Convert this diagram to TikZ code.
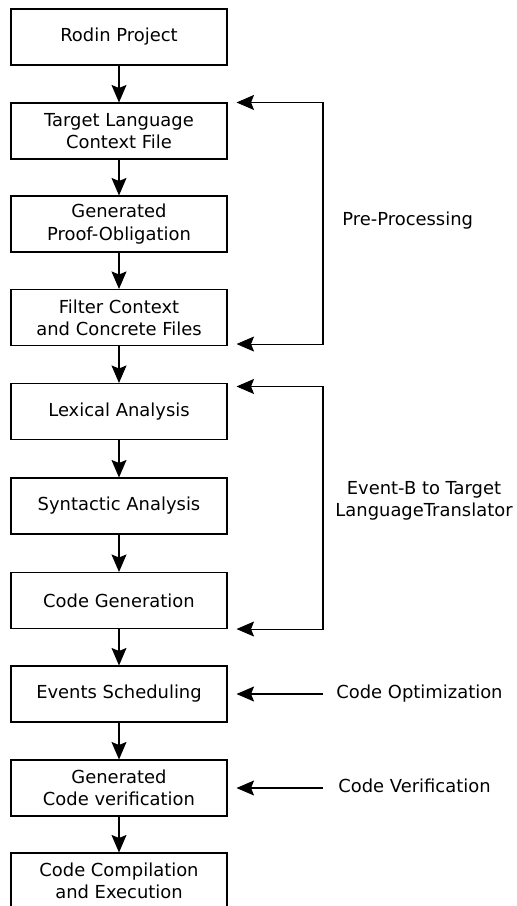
\documentclass[tikz,border=0pt]{standalone}
\usepackage{fontspec}
\setmainfont{DejaVu Sans}
\usetikzlibrary{arrows.meta}
\begin{document}
\begin{tikzpicture}
	\tikzstyle{stage}=[rectangle,draw=black,line width=0.6pt,minimum width=4.32cm,minimum height=1.12cm,align=center,font=\fontsize{10.2}{12.6}\selectfont]
	\tikzstyle{note}=[align=center,inner sep=0pt,font=\fontsize{10.2}{12.6}\selectfont]
	\tikzstyle{edge}=[draw, line width=0.6pt, -{Stealth[length=3.5mm,width=3mm,inset=0.6mm]}]
	\useasboundingbox (0,0) rectangle (10.32,-18.12);
	\begin{scope}
		\node [stage] (rodin)   at (2.38,-0.74)  {Rodin Project};
		\node [stage] (target)  at (2.38,-2.62)  {Target Language\\Context File};
		\node [stage] (proof)   at (2.38,-4.48)  {Generated\\Proof-Obligation};
		\node [stage] (filter)  at (2.38,-6.35)  {Filter Context\\and Concrete Files};
		\node [stage] (lexical) at (2.38,-8.23)  {Lexical Analysis};
		\node [stage] (syntax)  at (2.38,-10.12) {Syntactic Analysis};
		\node [stage] (codegen) at (2.38,-12.01) {Code Generation};
		\node [stage] (sched)   at (2.38,-13.88) {Events Scheduling};
		\node [stage] (verif)   at (2.38,-15.76) {Generated\\Code verification};
		\node [stage] (compile) at (2.38,-17.62) {Code Compilation\\and Execution};
		\path[edge] (rodin) edge (target);
		\path[edge] (target) edge (proof);
		\path[edge] (proof) edge (filter);
		\path[edge] (filter) edge (lexical);
		\path[edge] (lexical) edge (syntax);
		\path[edge] (syntax) edge (codegen);
		\path[edge] (codegen) edge (sched);
		\path[edge] (sched) edge (verif);
		\path[edge] (verif) edge (compile);
	\end{scope}
	\begin{scope}
		% pre-processing loop
		\coordinate (pptip1) at ([xshift=0.18cm]target.north east);
		\coordinate (pptip2) at ([xshift=0.18cm,yshift=0.04cm]filter.south east);
		\coordinate (ppbar1) at (6.46,0 |- pptip1);
		\coordinate (ppbar2) at (6.46,0 |- pptip2);
		\draw[edge] (ppbar1) -- (pptip1);
		\draw[edge] (ppbar1) -- (ppbar2) -- (pptip2);
		\node [note,anchor=west] (pre) at (6.84,-4.42) {Pre-Processing};
		% translator loop
		\coordinate (trtip1) at ([xshift=0.18cm,yshift=-0.07cm]lexical.north east);
		\coordinate (trtip2) at ([xshift=0.18cm]codegen.south east);
		\coordinate (trbar1) at (6.46,0 |- trtip1);
		\coordinate (trbar2) at (6.46,0 |- trtip2);
		\draw[edge] (trbar1) -- (trtip1);
		\draw[edge] (trbar1) -- (trbar2) -- (trtip2);
		\node [note] (trans) at (8.48,-10.02) {Event-B to Target\\LanguageTranslator};
		% side inputs
		\node [note,anchor=west] (optim) at (6.72,-13.88) {Code Optimization};
		\node [note,anchor=west] (check) at (6.76,-15.72) {Code Verification};
		\coordinate (optend) at ([xshift=0.18cm]sched.east);
		\coordinate (chkend) at ([xshift=0.18cm]verif.east);
		\draw[edge] (6.46,0 |- optend) -- (optend);
		\draw[edge] (6.46,0 |- chkend) -- (chkend);
	\end{scope}
\end{tikzpicture}
\end{document}
